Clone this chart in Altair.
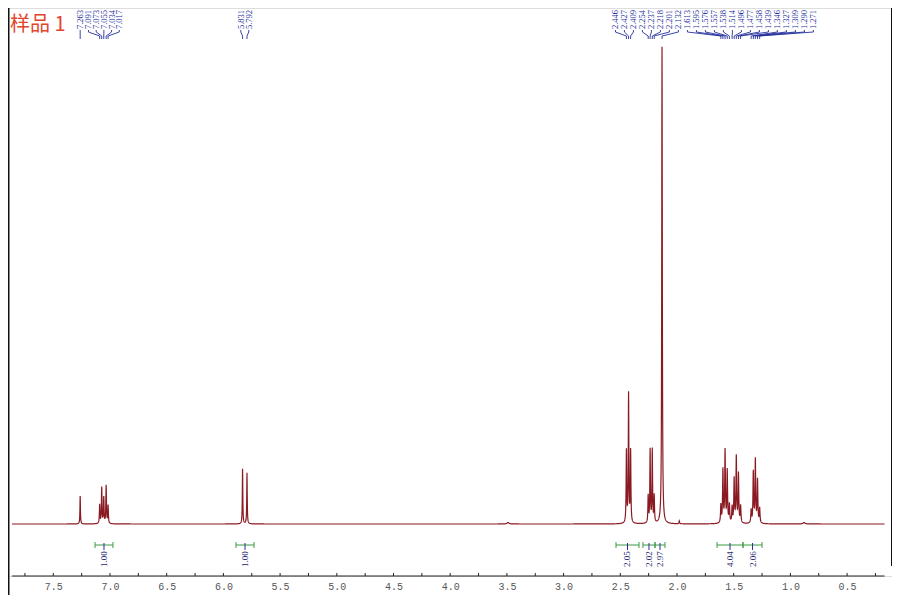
import altair as alt
import numpy as np
import pandas as pd

# ---------------- data ----------------
# peak list: chemical shift (ppm), apex height (px above baseline), line width (FWHM, ppm)
peak_ppm = [7.263,
            7.091, 7.073, 7.055, 7.034, 7.017,
            5.831, 5.792,
            2.446, 2.427, 2.409,
            2.254, 2.237, 2.218, 2.201,
            2.132,
            1.613, 1.595, 1.576, 1.557, 1.538,
            1.514, 1.496, 1.477, 1.458, 1.439,
            1.346, 1.327, 1.309, 1.290, 1.271,
            3.490, 1.980, 0.880]
peak_height = [28,
               19, 36, 26, 38, 18,
               55, 51,
               72, 129, 72,
               27, 73, 73, 27,
               477,
               18, 53, 72, 52, 18,
               16, 44, 66, 49, 17,
               13, 51, 63, 43, 15,
               1.5, 3, 1.5]
peak_width = [0.005,
              0.006, 0.006, 0.006, 0.006, 0.006,
              0.005, 0.005,
              0.006, 0.006, 0.006,
              0.006, 0.006, 0.006, 0.006,
              0.006,
              0.007, 0.007, 0.007, 0.007, 0.007,
              0.007, 0.007, 0.007, 0.007, 0.007,
              0.007, 0.007, 0.007, 0.007, 0.007,
              0.02, 0.006, 0.02]

# labelled peaks (clusters of evenly spaced labels)
label_cluster1 = [7.263]
label_cluster2 = [7.091, 7.073, 7.055, 7.034, 7.017]
label_cluster3 = [5.831, 5.792]
label_cluster4 = [2.446, 2.427, 2.409, 2.254, 2.237, 2.218, 2.201, 2.132,
                  1.613, 1.595, 1.576, 1.557, 1.538, 1.514, 1.496, 1.477,
                  1.458, 1.439, 1.346, 1.327, 1.309, 1.290, 1.271]

# integrals: from, to (ppm), value
int_from = [7.132, 5.889, 2.538, 2.300, 2.194, 1.647, 1.418]
int_to = [6.974, 5.730, 2.335, 2.194, 2.106, 1.418, 1.250]
int_value = ["1.00", "1.00", "2.05", "2.02", "2.97", "4.04", "2.06"]

axis_labels = [7.5, 7.0, 6.5, 6.0, 5.5, 5.0, 4.5, 4.0, 3.5, 3.0, 2.5, 2.0, 1.5, 1.0, 0.5]
minor_ticks = [7.75, 7.5, 7.25, 7.0, 6.75, 6.5, 6.25, 6.0, 5.75, 5.5, 5.25, 5.0, 4.75, 4.5,
               4.25, 4.0, 3.75, 3.5, 3.25, 3.0, 2.75, 2.5, 2.25, 2.0, 1.75, 1.5, 1.25,
               1.0, 0.75, 0.5, 0.25]
spec_range = [7.865, 0.17]
title_text = "样品 1"

# ---------------- layout ----------------
W, H = 884, 568
PX_PER_PPM = 113.4
xs = alt.Scale(domain=[0.104, 7.8995], reverse=True, nice=False, zero=False)
ys = alt.Scale(domain=[-52, 516], nice=False, zero=False)
RED = "#8a1a22"
BLUE = "#25309c"
GREEN = "#3f9a45"

# ---------------- spectrum ----------------
grid = np.arange(spec_range[1], spec_range[0], 0.001)
grid = np.unique(np.round(np.concatenate([grid, peak_ppm]), 4))
inten = np.zeros_like(grid)
for p, h, w in zip(peak_ppm, peak_height, peak_width):
    inten += h / (1.0 + ((grid - p) / (w / 2.0)) ** 2)
spec_df = pd.DataFrame({"ppm": grid, "v": inten})

spectrum = alt.Chart(spec_df).mark_line(color=RED, strokeWidth=1.2, clip=False).encode(
    x=alt.X("ppm:Q", scale=xs,
            axis=alt.Axis(values=axis_labels, format=".1f", ticks=False, domain=False,
                          grid=False, labelFont="Liberation Mono", labelFontSize=10,
                          labelColor="#555555", labelPadding=5, title=None)),
    y=alt.Y("v:Q", scale=ys, axis=None),
    order="ppm:Q",
)

# ---------------- peak labels with leaders ----------------
def spread(peaks, spacing_px, center_ppm=None):
    n = len(peaks)
    if center_ppm is None:
        center_ppm = (peaks[0] + peaks[-1]) / 2.0
    s = spacing_px / PX_PER_PPM
    return [center_ppm + (n - 1) / 2.0 * s - i * s for i in range(n)]

lab_rows = []
lead_rows = []
clusters = [(label_cluster1, 7.5, None), (label_cluster2, 7.7, None),
            (label_cluster3, 8.0, None), (label_cluster4, 9.0, 1.67)]
lid = 0
for peaks, sp, c in clusters:
    lxs = spread(peaks, sp, c)
    for p, lx in zip(peaks, lxs):
        lab_rows.append({"lx": lx, "txt": f"{p:.3f}"})
        for k, (xx, yy) in enumerate([(lx, 494), (lx, 492), (p, 488), (p, 485)]):
            lead_rows.append({"lid": lid, "k": k, "ppm": xx, "v": yy})
        lid += 1
lab_df = pd.DataFrame(lab_rows)
lead_df = pd.DataFrame(lead_rows)

leaders = alt.Chart(lead_df).mark_line(color=BLUE, strokeWidth=0.9).encode(
    x=alt.X("ppm:Q", scale=xs), y=alt.Y("v:Q", scale=ys), detail="lid:N", order="k:Q")
labels = alt.Chart(lab_df).mark_text(angle=270, align="left", baseline="middle",
                                     font="Liberation Serif", fontSize=8.5, color=BLUE).encode(
    x=alt.X("lx:Q", scale=xs), y=alt.datum(495, scale=ys), text="txt:N")

# ---------------- integrals ----------------
int_df = pd.DataFrame({"a": int_from, "b": int_to, "val": int_value})
int_df["c"] = (int_df["a"] + int_df["b"]) / 2.0
BAR_V = -21
int_bar = alt.Chart(int_df).mark_rule(color=GREEN, strokeWidth=1).encode(
    x=alt.X("a:Q", scale=xs), x2="b:Q", y=alt.datum(BAR_V, scale=ys))
cap_a = alt.Chart(int_df).mark_rule(color=GREEN, strokeWidth=1).encode(
    x=alt.X("a:Q", scale=xs), y=alt.datum(BAR_V + 3, scale=ys), y2=alt.datum(BAR_V - 3))
cap_b = alt.Chart(int_df).mark_rule(color=GREEN, strokeWidth=1).encode(
    x=alt.X("b:Q", scale=xs), y=alt.datum(BAR_V + 3, scale=ys), y2=alt.datum(BAR_V - 3))
cap_c = alt.Chart(int_df).mark_rule(color=BLUE, strokeWidth=1).encode(
    x=alt.X("c:Q", scale=xs), y=alt.datum(BAR_V + 2, scale=ys), y2=alt.datum(BAR_V - 5))
int_txt = alt.Chart(int_df).mark_text(angle=270, align="center", baseline="middle",
                                      font="Liberation Serif", fontSize=9, color="#1f2a70").encode(
    x=alt.X("c:Q", scale=xs), y=alt.datum(-35, scale=ys), text="val:N")

# ---------------- axis line and ticks ----------------
axis_df = pd.DataFrame({"a": [spec_range[0]], "b": [spec_range[1]]})
axis_line = alt.Chart(axis_df).mark_rule(color="#222222", strokeWidth=1).encode(
    x=alt.X("a:Q", scale=xs), x2="b:Q", y=alt.datum(-52, scale=ys))
tick_df = pd.DataFrame({"t": minor_ticks})
ticks = alt.Chart(tick_df).mark_rule(color="#222222", strokeWidth=1).encode(
    x=alt.X("t:Q", scale=xs), y=alt.datum(-52, scale=ys), y2=alt.datum(-49))

# ---------------- frame and title ----------------
frame_df = pd.DataFrame({"side": ["l", "r"]})
left_border = alt.Chart(frame_df.iloc[:1]).mark_rule(color="#111111", strokeWidth=1.5).encode(
    x=alt.value(0.75), y=alt.value(0), y2=alt.value(H + 19))
right_border = alt.Chart(frame_df.iloc[1:]).mark_rule(color="#111111", strokeWidth=1).encode(
    x=alt.value(W - 0.5), y=alt.value(0), y2=alt.value(H - 10))
title_df = pd.DataFrame({"t": [title_text]})
title = alt.Chart(title_df).mark_text(align="left", baseline="middle", font="Noto Sans CJK SC",
                                      fontSize=20, color="#e2452d").encode(
    x=alt.value(2), y=alt.value(17), text="t:N")

chart = alt.layer(spectrum, leaders, labels, int_bar, cap_a, cap_b, cap_c, int_txt,
                  axis_line, ticks, left_border, right_border, title).properties(
    width=W, height=H, padding={"left": 0, "top": 0, "right": 0, "bottom": 19},
    autosize=alt.AutoSizeParams(type="none"),
).configure_view(stroke=None).configure(background="white")

chart.save("out.html", embed_options={"renderer": "svg", "actions": False})
